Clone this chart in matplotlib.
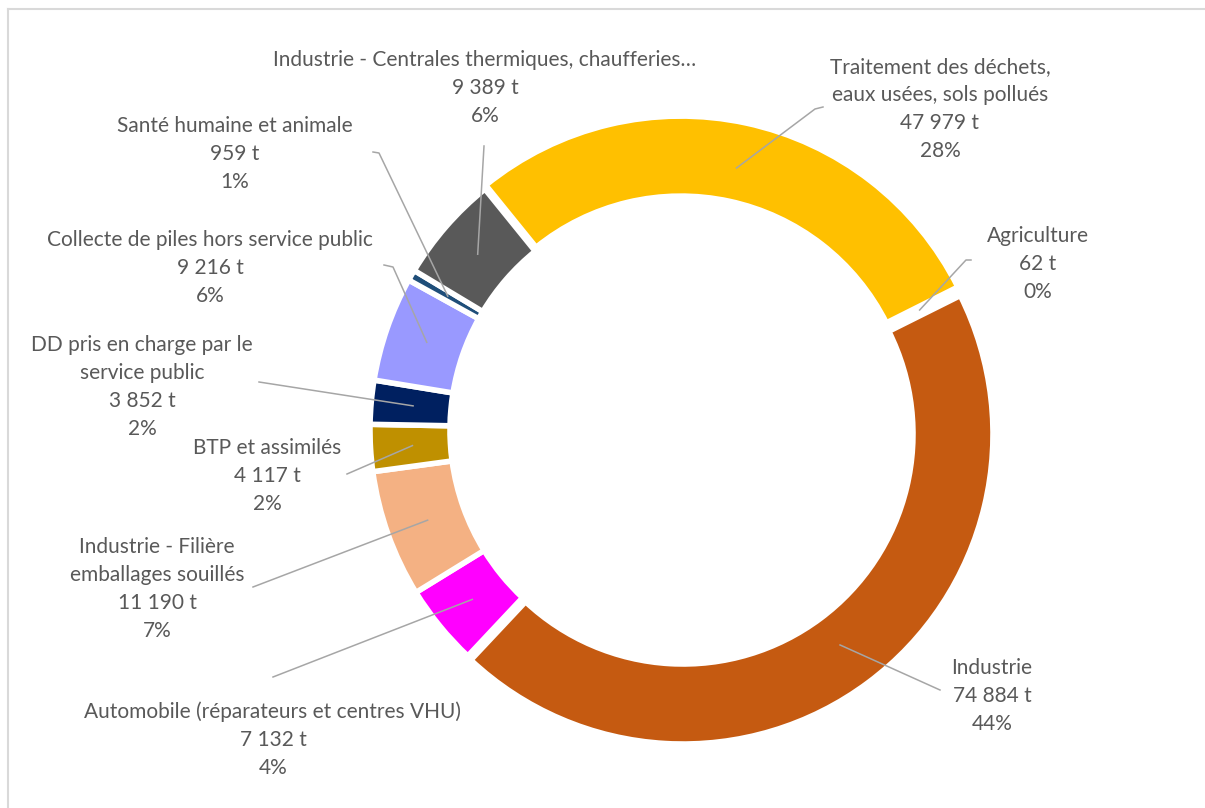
import numpy as np
import matplotlib
matplotlib.use("Agg")
import matplotlib.pyplot as plt
from matplotlib.lines import Line2D

plt.rcParams['font.family'] = ['Lato', 'DejaVu Sans']

# ---------------- data (clockwise from the yellow slice) ----------------
categories = [
    "Traitement des déchets,\neaux usées, sols pollués",
    "Agriculture",
    "Industrie",
    "Automobile (réparateurs et centres VHU)",
    "Industrie - Filière\nemballages souillés",
    "BTP et assimilés",
    "DD pris en charge par le\nservice public",
    "Collecte de piles hors service public",
    "Santé humaine et animale",
    "Industrie - Centrales thermiques, chaufferies…",
]
tonnes = [47979, 62, 74884, 7132, 11190, 4117, 3852, 9216, 959, 9389]
pct_labels = ["28%", "0%", "44%", "4%", "7%", "2%", "2%", "6%", "1%", "6%"]
colors = ["#FFC000", "#70AD47", "#C55A11", "#FF00FF", "#F4B183",
          "#BF9000", "#002060", "#9999FF", "#1F4E79", "#595959"]

# ---------------- layout (pixels, origin top-left) ----------------
W, H = 1205, 808
CX, CY = 680, 430
R_OUT = 310
RING = 80
explode = [4, 0, 5, 0, 0, 0, 0, 0, 0, 0]
label_pos = [(940, 67), (1038, 236), (992, 668), (273, 712), (157, 547),
             (267, 448), (142, 345), (210, 240), (235, 126), (485, 60)]
line_start = [[(823, 107), (815, 109)], [(971, 260), (966, 260)], [(940, 690)],
              [(273, 677)], [(253, 587)], [(347, 474)], [(259, 382)],
              [(384, 265), (393, 267)], [(373, 152), (379, 153)], [(484, 146)]]
LINE_R = 268
LINE_H = 28
TXT = "#595959"

fig = plt.figure(figsize=(W / 100, H / 100), dpi=100)
ax = fig.add_axes([0, 0, 1, 1])

wedges, _ = ax.pie(tonnes, colors=colors, startangle=129, counterclock=False,
                   radius=R_OUT, center=(CX, H - CY), explode=explode,
                   wedgeprops=dict(width=RING, edgecolor="white", linewidth=4))
ax.set_xlim(0, W)
ax.set_ylim(0, H)
ax.set_aspect("equal")
ax.axis("off")

for i, w in enumerate(wedges):
    mid = np.deg2rad((w.theta1 + w.theta2) / 2)
    ex = CX + LINE_R * np.cos(mid)
    ey = (H - CY) + LINE_R * np.sin(mid)
    pts = line_start[i]
    xs = [p[0] for p in pts] + [ex]
    ys = [H - p[1] for p in pts] + [ey]
    ax.plot(xs, ys, color="#A6A6A6", lw=1.1, zorder=5)

    lines = categories[i].split("\n") + [f"{tonnes[i]:,}".replace(",", " ") + " t", pct_labels[i]]
    x0, y0 = label_pos[i]
    for k, s in enumerate(lines):
        ax.text(x0, H - (y0 + k * LINE_H), s, ha="center", va="center",
                fontsize=15, color=TXT)

# chart frame (top and left border)
fig.add_artist(Line2D([8 / W, 1], [1 - 9 / H, 1 - 9 / H], color="#D9D9D9", lw=1.5))
fig.add_artist(Line2D([8 / W, 8 / W], [0, 1 - 9 / H], color="#D9D9D9", lw=1.5))

fig.savefig("out.png", dpi=100, facecolor="white")
